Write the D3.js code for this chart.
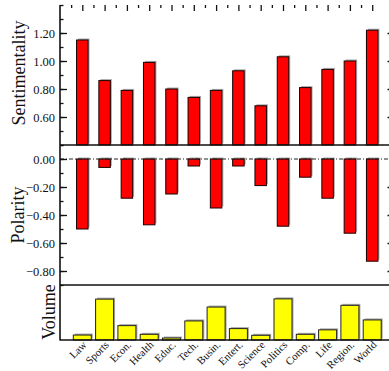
<!DOCTYPE html>
<html>
<head>
<meta charset="utf-8">
<script src="https://cdn.jsdelivr.net/npm/d3@7"></script>
<style>
  body { margin: 0; background: #fff; }
  svg { display: block; }
</style>
</head>
<body>
<script>
const categories = ["Law", "Sports", "Econ.", "Health", "Educ.", "Tech.", "Busin.",
  "Entert.", "Science", "Politics", "Comp.", "Life", "Region.", "World"];
const sentimentality = [1.15, 0.86, 0.79, 0.99, 0.80, 0.74, 0.79, 0.93, 0.68, 1.03, 0.81, 0.94, 1.00, 1.22];
const polarity = [-0.50, -0.06, -0.28, -0.47, -0.25, -0.05, -0.35, -0.05, -0.19, -0.48, -0.13, -0.28, -0.53, -0.73];
const volume = [2.0, 16.5, 5.8, 2.3, 0.8, 7.7, 13.3, 4.6, 1.9, 16.6, 2.3, 4.1, 14.0, 8.1];
const sentTicks = [0.6, 0.8, 1.0, 1.2];
const polTicks = [-0.8, -0.6, -0.4, -0.2, 0.0];

const width = 389;
const height = 371;
const left = 60;
const right = 394.5;
const serif = "'Liberation Serif', 'DejaVu Serif', serif";

const x = d3.scaleLinear().domain([-1, 14]).range([left, right]);
const ySent = d3.scaleLinear().domain([0.4, 1.4]).range([145, 5]);
const yPol = d3.scaleLinear().domain([-0.9, 0.1]).range([285, 145]);
const yVol = d3.scaleLinear().domain([0, 22.2]).range([340, 285]);

const svg = d3.select("body").append("svg")
  .attr("width", width)
  .attr("height", height);

const fmt = d3.format(".2f");
const minorTicks = (scale, step) => d3.range(scale.domain()[0], scale.domain()[1] + 1e-9, step);

// bars with a small grey shadow
const bars = (data, y0, yv, w, fill, stroke) => {
  const g = svg.append("g");
  const top = (d) => Math.min(y0, yv(d));
  const h = (d) => Math.abs(yv(d) - y0);
  g.selectAll("rect.shadow").data(data).enter().append("rect")
    .attr("class", "shadow")
    .attr("x", (_, i) => x(i) - w / 2 + 1.5)
    .attr("y", (d) => top(d) - 1.5)
    .attr("width", w)
    .attr("height", h)
    .attr("fill", "#a8a8a8");
  g.selectAll("rect.bar").data(data).enter().append("rect")
    .attr("class", "bar")
    .attr("x", (_, i) => x(i) - w / 2)
    .attr("y", top)
    .attr("width", w)
    .attr("height", h)
    .attr("fill", fill)
    .attr("stroke", stroke)
    .attr("stroke-width", 1);
};

bars(sentimentality, ySent(0.4), ySent, 11.5, "#ff0000", "#1a0000");
bars(polarity, yPol(0), yPol, 11.5, "#ff0000", "#1a0000");
bars(volume, yVol(0), yVol, 18, "#ffff00", "#222");

// zero line of polarity
svg.append("line")
  .attr("x1", left).attr("x2", width)
  .attr("y1", yPol(0)).attr("y2", yPol(0))
  .attr("stroke", "#222")
  .attr("stroke-width", 1)
  .attr("stroke-dasharray", "4 2 1 2");

// left axes, ticks pointing inwards
const styleAxis = (g) => {
  g.select(".domain").remove();
  g.selectAll("line").attr("stroke", "#111").attr("stroke-width", 1.3);
  g.selectAll("text").attr("font-family", serif).attr("font-size", 12.5).attr("fill", "#111");
};

svg.append("g").attr("transform", `translate(${left},0)`)
  .call(d3.axisLeft(ySent).tickValues(minorTicks(ySent, 0.1)).tickSize(-3.5).tickFormat(""))
  .call(styleAxis);
svg.append("g").attr("transform", `translate(${left},0)`)
  .call(d3.axisLeft(ySent).tickValues(sentTicks).tickSize(-7).tickPadding(5).tickFormat(fmt))
  .call(styleAxis);
svg.append("g").attr("transform", `translate(${right},0)`)
  .call(d3.axisRight(ySent).tickValues(sentTicks).tickSize(-7).tickFormat(""))
  .call(styleAxis);

svg.append("g").attr("transform", `translate(${left},0)`)
  .call(d3.axisLeft(yPol).tickValues(minorTicks(yPol, 0.1)).tickSize(-3.5).tickFormat(""))
  .call(styleAxis);
svg.append("g").attr("transform", `translate(${left},0)`)
  .call(d3.axisLeft(yPol).tickValues(polTicks).tickSize(-7).tickPadding(5).tickFormat(fmt))
  .call(styleAxis);
svg.append("g").attr("transform", `translate(${right},0)`)
  .call(d3.axisRight(yPol).tickValues(polTicks.filter((d) => d < 0)).tickSize(-7).tickFormat(""))
  .call(styleAxis);

// top ticks: long at categories, short between
svg.append("g").attr("transform", `translate(0,${ySent.range()[1]})`)
  .call(d3.axisTop(x).tickValues(d3.range(categories.length)).tickSize(-6).tickFormat(""))
  .call(styleAxis);
svg.append("g").attr("transform", `translate(0,${ySent.range()[1]})`)
  .call(d3.axisTop(x).tickValues(d3.range(categories.length).map((i) => i - 0.5)).tickSize(-3).tickFormat(""))
  .call(styleAxis);

// frame lines
const frame = svg.append("g").attr("stroke", "#111").attr("stroke-width", 1.6);
frame.append("line").attr("x1", left).attr("x2", left).attr("y1", 5).attr("y2", 340.5);
[145, 285, 340].forEach((yy) => {
  frame.append("line").attr("x1", left).attr("x2", width).attr("y1", yy).attr("y2", yy);
});

// category labels
svg.append("g")
  .selectAll("text")
  .data(categories)
  .enter()
  .append("text")
  .attr("transform", (_, i) => `translate(${x(i) + 5},${345.5}) rotate(-45)`)
  .attr("text-anchor", "end")
  .attr("font-family", serif)
  .attr("font-size", 10.8)
  .attr("fill", "#111")
  .text((d) => d);

// axis titles
const title = (label, tx, ty) =>
  svg.append("text")
    .attr("transform", `translate(${tx},${ty}) rotate(-90)`)
    .attr("text-anchor", "middle")
    .attr("font-family", serif)
    .attr("font-size", 18)
    .attr("fill", "#111")
    .text(label);

title("Sentimentality", 25, 73);
title("Polarity", 24, 215);
title("Volume", 55, 312);
</script>
</body>
</html>
